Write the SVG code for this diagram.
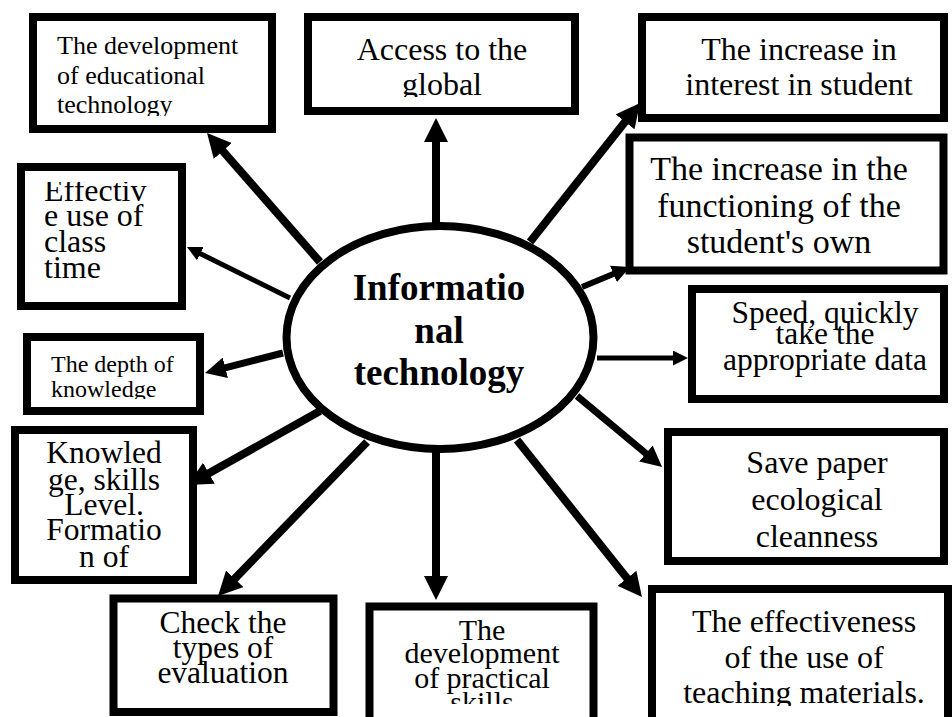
<svg xmlns="http://www.w3.org/2000/svg" width="952" height="717" viewBox="0 0 952 717">
<style>
.box{fill:#fff;stroke:#000;stroke-width:8}
.t{font-family:"Liberation Serif","Times New Roman",serif;fill:#000}
.c{text-anchor:middle}
.con{stroke:#000;fill:none}
</style>
<defs>
<marker id="ah" markerUnits="strokeWidth" markerWidth="3" markerHeight="3" viewBox="0 0 3 3" refX="0.2" refY="1.5" orient="auto">
<path d="M0,0 L3,1.5 L0,3 z" fill="#000"/>
</marker>
<clipPath id="c1"><rect x="0" y="0" width="952" height="116"/></clipPath>
<clipPath id="c2"><rect x="0" y="0" width="952" height="97"/></clipPath>
<clipPath id="c11"><rect x="0" y="0" width="952" height="399"/></clipPath>
<clipPath id="c12"><rect x="0" y="182" width="952" height="535"/></clipPath>
<clipPath id="c8"><rect x="0" y="0" width="952" height="704"/></clipPath>
<clipPath id="c7"><rect x="0" y="0" width="952" height="706"/></clipPath>
</defs>
<rect width="952" height="717" fill="#fff"/>

<g id="center">
<ellipse cx="440" cy="337.5" rx="153.5" ry="111.5" fill="#fff" stroke="#000" stroke-width="8"/>
<text class="t c" font-size="37" font-weight="bold" x="439"><tspan x="439" y="300">Informatio</tspan><tspan x="439" y="343">nal</tspan><tspan x="439" y="385">technology</tspan></text>
</g>

<g id="connectors" marker-end="url(#ah)">
<line class="con" x1="320" y1="262" x2="221.8" y2="149.8" stroke-width="8" marker-end="url(#ah)"/>
<line class="con" x1="436" y1="228" x2="436" y2="140.4" stroke-width="8" marker-end="url(#ah)"/>
<line class="con" x1="530" y1="242" x2="626.1" y2="120.6" stroke-width="8" marker-end="url(#ah)"/>
<line class="con" x1="582" y1="287" x2="614.5" y2="273.5" stroke-width="6" marker-end="url(#ah)"/>
<line class="con" x1="597" y1="358" x2="674" y2="358" stroke-width="5" marker-end="url(#ah)"/>
<line class="con" x1="577" y1="396" x2="647" y2="454.4" stroke-width="7" marker-end="url(#ah)"/>
<line class="con" x1="517" y1="440" x2="628" y2="579.5" stroke-width="8" marker-end="url(#ah)"/>
<line class="con" x1="436" y1="452" x2="436" y2="577.6" stroke-width="8" marker-end="url(#ah)"/>
<line class="con" x1="367" y1="442" x2="233.6" y2="579.9" stroke-width="8" marker-end="url(#ah)"/>
<line class="con" x1="320" y1="411" x2="207.5" y2="474" stroke-width="8" marker-end="url(#ah)"/>
<line class="con" x1="283" y1="353" x2="224" y2="368.1" stroke-width="7" marker-end="url(#ah)"/>
<line class="con" x1="290" y1="298" x2="199.5" y2="253.2" stroke-width="5" marker-end="url(#ah)"/>
</g>

<g id="n1">
<rect class="box" x="33" y="17" width="239" height="112"/>
<text class="t" font-size="26" clip-path="url(#c1)"><tspan x="57" y="54">The development</tspan><tspan x="57" y="84">of educational</tspan><tspan x="57" y="113">technology</tspan></text>
</g>
<g id="n2">
<rect class="box" x="308" y="17" width="267" height="94"/>
<text class="t c" font-size="32" clip-path="url(#c2)"><tspan x="442" y="60">Access to the</tspan><tspan x="442" y="95">global</tspan></text>
</g>
<g id="n3">
<rect class="box" x="642" y="17" width="302" height="101"/>
<text class="t c" font-size="32"><tspan x="799" y="60">The increase in</tspan><tspan x="799" y="95">interest in student</tspan></text>
</g>
<g id="n4">
<rect class="box" x="629.5" y="137.5" width="314" height="133" stroke-width="9"/>
<text class="t c" font-size="34"><tspan x="779" y="180">The increase in the</tspan><tspan x="779" y="217">functioning of the</tspan><tspan x="779" y="253">student's own</tspan></text>
</g>
<g id="n5">
<rect class="box" x="692" y="289" width="252" height="110"/>
<text class="t c" font-size="31.5"><tspan x="825" y="323">Speed, quickly</tspan><tspan x="825" y="344">take the</tspan><tspan x="825" y="370">appropriate data</tspan></text>
</g>
<g id="n6">
<rect class="box" x="668" y="432" width="276" height="129"/>
<text class="t c" font-size="32"><tspan x="817" y="473">Save paper</tspan><tspan x="817" y="510">ecological</tspan><tspan x="817" y="547">cleanness</tspan></text>
</g>
<g id="n7">
<rect class="box" x="652" y="589" width="296" height="140"/>
<text class="t c" font-size="32" clip-path="url(#c7)"><tspan x="804" y="632">The effectiveness</tspan><tspan x="804" y="668">of the use of</tspan><tspan x="804" y="703">teaching materials.</tspan></text>
</g>
<g id="n8">
<rect class="box" x="369.5" y="606.5" width="224" height="130" stroke-width="7"/>
<text class="t c" font-size="30" clip-path="url(#c8)"><tspan x="482" y="640">The</tspan><tspan x="482" y="663">development</tspan><tspan x="482" y="688">of practical</tspan><tspan x="482" y="712">skills</tspan></text>
</g>
<g id="n9">
<rect class="box" x="113.5" y="598.5" width="220" height="113.5" stroke-width="7"/>
<text class="t c" font-size="31.5"><tspan x="223" y="633">Check the</tspan><tspan x="223" y="658">types of</tspan><tspan x="223" y="683">evaluation</tspan></text>
</g>
<g id="n10">
<rect class="box" x="15" y="430" width="178" height="150"/>
<text class="t c" font-size="31.5"><tspan x="104" y="463">Knowled</tspan><tspan x="104" y="490">ge, skills</tspan><tspan x="104" y="515">Level.</tspan><tspan x="104" y="540">Formatio</tspan><tspan x="104" y="567">n of</tspan></text>
</g>
<g id="n11">
<rect class="box" x="27" y="337" width="173" height="74"/>
<text class="t" font-size="24" clip-path="url(#c11)"><tspan x="51" y="372">The depth of</tspan><tspan x="51" y="397">knowledge</tspan></text>
</g>
<g id="n12">
<rect class="box" x="21" y="167" width="161" height="139"/>
<text class="t" font-size="32" clip-path="url(#c12)"><tspan x="44" y="201">Effectiv</tspan><tspan x="44" y="226">e use of</tspan><tspan x="44" y="252">class</tspan><tspan x="44" y="278">time</tspan></text>
</g>
</svg>
